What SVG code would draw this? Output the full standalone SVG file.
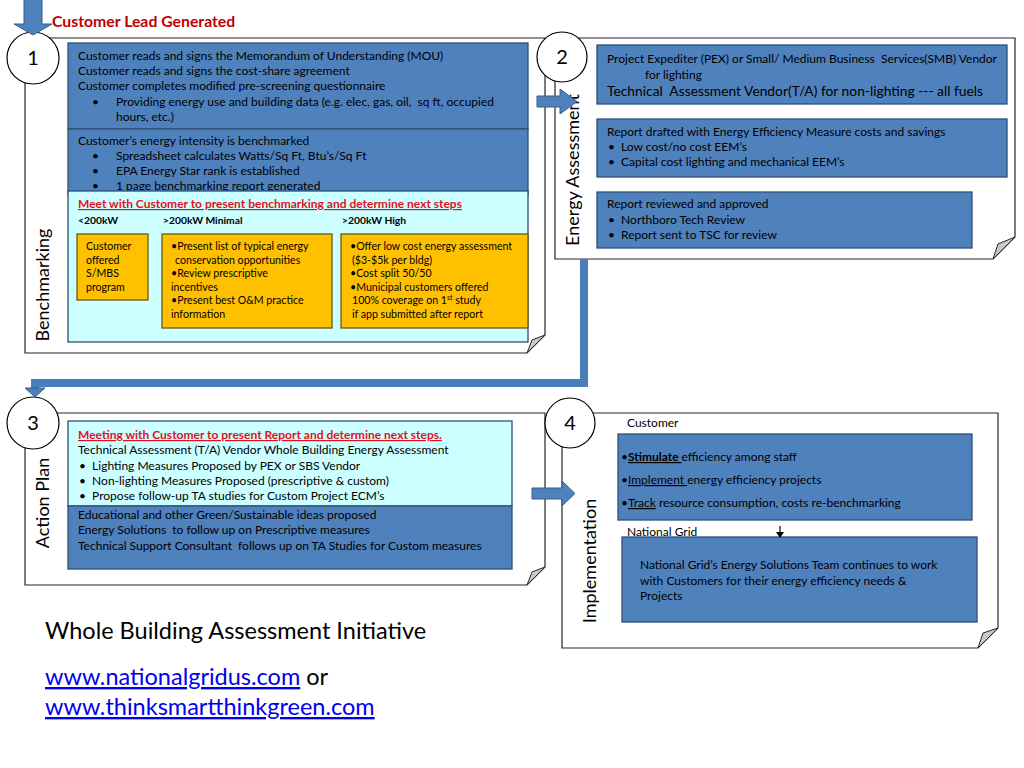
<svg xmlns="http://www.w3.org/2000/svg" width="1024" height="768" viewBox="0 0 1024 768">
<style>
text{font-family:Lato,"Liberation Sans",sans-serif;fill:#000}
.page{fill:#fff;stroke:#262626;stroke-width:1.2}
.fold{fill:#c8c8c8;stroke:#262626;stroke-width:1}
.circ{fill:#fff;stroke:#000;stroke-width:1.2}
.num{font-size:20px;text-anchor:middle}
.blue{fill:#4F81BD;stroke:#2F4F75;stroke-width:1.3}
.cyan{fill:#CCFFFF;stroke:#2F4F75;stroke-width:1.3}
.yel{fill:#FFC000;stroke:#6B5A10;stroke-width:1.3}
.vl{font-size:18px;text-anchor:middle}
.m{font-size:12px}
.y{font-size:10.6px}
.h{font-size:10.3px;font-weight:bold}
.red{fill:#E3101B;font-weight:bold;text-decoration:underline}
.arr{fill:#4F81BD;stroke:#385D8A;stroke-width:1}
.link{fill:#0000EE;text-decoration:underline}
.ft{font-size:23.5px}
</style>

<g id="section1">
<path class="page" d="M25,38 H545 V335 L527,353 H25 Z"/>
<polygon class="fold" points="527,353 532,340 545,335"/>
<circle class="circ" cx="33" cy="58" r="26"/>
<text class="num" x="33" y="65">1</text>
<text x="52" y="27" style="font-size:15.8px;font-weight:bold;fill:#C00000">Customer Lead Generated</text>
<text class="vl" transform="translate(49,285) rotate(-90)">Benchmarking</text>
<rect class="blue" x="68" y="43" width="460" height="86"/>
<text class="m" x="78" y="60">Customer reads and signs the Memorandum of Understanding (MOU)</text>
<text class="m" x="78" y="75">Customer reads and signs the cost-share agreement</text>
<text class="m" x="78" y="90">Customer completes modified pre-screening questionnaire</text>
<text class="m" x="92" y="106">•</text>
<text class="m" x="116" y="106">Providing energy use and building data (e.g. elec, gas, oil, &#160;sq ft, occupied</text>
<text class="m" x="116" y="121">hours, etc.)</text>
<rect class="blue" x="68" y="129" width="460" height="66"/>
<text class="m" x="78" y="145">Customer’s energy intensity is benchmarked</text>
<text class="m" x="92" y="160">•</text>
<text class="m" x="116" y="160">Spreadsheet calculates Watts/Sq Ft, Btu’s/Sq Ft</text>
<text class="m" x="92" y="175">•</text>
<text class="m" x="116" y="175">EPA Energy Star rank is established</text>
<text class="m" x="92" y="190">•</text>
<text class="m" x="116" y="190">1 page benchmarking report generated</text>
<rect class="cyan" x="68" y="191" width="460" height="151"/>
<text class="m red" x="78" y="208">Meet with Customer to present benchmarking and determine next steps</text>
<text class="h" x="78" y="224">&lt;200kW</text>
<text class="h" x="163" y="224">&gt;200kW Minimal</text>
<text class="h" x="342" y="224">&gt;200kW High</text>
<rect class="yel" x="77" y="234" width="71" height="66"/>
<text class="y" x="86" y="250">Customer</text>
<text class="y" x="86" y="264">offered</text>
<text class="y" x="86" y="277">S/MBS</text>
<text class="y" x="86" y="291">program</text>
<rect class="yel" x="162" y="234" width="170" height="94"/>
<text class="y" x="171" y="250">•Present list of typical energy</text>
<text class="y" x="175" y="264">conservation opportunities</text>
<text class="y" x="171" y="277">•Review prescriptive</text>
<text class="y" x="171" y="291">incentives</text>
<text class="y" x="171" y="304">•Present best O&amp;M practice</text>
<text class="y" x="171" y="318">information</text>
<rect class="yel" x="341" y="234" width="187" height="94"/>
<text class="y" x="350" y="250">•Offer low cost energy assessment</text>
<text class="y" x="352" y="264">($3-$5k per bldg)</text>
<text class="y" x="350" y="277">•Cost split 50/50</text>
<text class="y" x="350" y="291">•Municipal customers offered</text>
<text class="y" x="352" y="304">100% coverage on 1<tspan dy="-4" style="font-size:7px">st</tspan><tspan dy="4"> study</tspan></text>
<text class="y" x="352" y="318">if app submitted after report</text>
</g>

<g id="section2">
<path class="page" d="M555,38 H1015 V237 L993,259 H555 Z"/>
<polygon class="fold" points="993,259 998,244 1015,237"/>
<circle class="circ" cx="562" cy="57" r="25"/>
<text class="num" x="562" y="64">2</text>
<text class="vl" transform="translate(579,170) rotate(-90)">Energy Assessment</text>
<rect class="blue" x="597" y="45" width="410" height="59"/>
<text class="m" x="607" y="63">Project Expediter (PEX) or Small/ Medium Business &#160;Services(SMB) Vendor</text>
<text class="m" x="645" y="79">for lighting</text>
<text x="607" y="96" style="font-size:13.8px">Technical &#160;Assessment Vendor(T/A) for non-lighting --- all fuels</text>
<rect class="blue" x="597" y="119" width="410" height="58"/>
<text class="m" x="607" y="136">Report drafted with Energy Efficiency Measure costs and savings</text>
<text class="m" x="608" y="151">• &#160;Low cost/no cost EEM’s</text>
<text class="m" x="608" y="166">• &#160;Capital cost lighting and mechanical EEM’s</text>
<rect class="blue" x="597" y="192" width="375" height="56"/>
<text class="m" x="607" y="208">Report reviewed and approved</text>
<text class="m" x="608" y="224">• &#160;Northboro Tech Review</text>
<text class="m" x="608" y="239">• &#160;Report sent to TSC for review</text>
</g>

<g id="section3">
<path class="page" d="M25,413 H545 V567 L527,585 H25 Z"/>
<polygon class="fold" points="527,585 532,572 545,567"/>
<circle class="circ" cx="33" cy="423" r="26"/>
<text class="num" x="33" y="430">3</text>
<text class="vl" transform="translate(49,503) rotate(-90)">Action Plan</text>
<rect class="cyan" x="68" y="421" width="444" height="85"/>
<text class="m red" x="78" y="439">Meeting with Customer to present Report and determine next steps.</text>
<text class="m" x="78" y="454">Technical Assessment (T/A) Vendor Whole Building Energy Assessment</text>
<text class="m" x="79" y="470">• &#160;Lighting Measures Proposed by PEX or SBS Vendor</text>
<text class="m" x="79" y="485">• &#160;Non-lighting Measures Proposed (prescriptive &amp; custom)</text>
<text class="m" x="79" y="500">• &#160;Propose follow-up TA studies for Custom Project ECM’s</text>
<rect class="blue" x="68" y="506" width="444" height="63"/>
<text class="m" x="78" y="519">Educational and other Green/Sustainable ideas proposed</text>
<text class="m" x="78" y="534">Energy Solutions &#160;to follow up on Prescriptive measures</text>
<text class="m" x="78" y="550">Technical Support Consultant &#160;follows up on TA Studies for Custom measures</text>
</g>

<g id="section4">
<path class="page" d="M562,413 H998 V628 L978,648 H562 Z"/>
<polygon class="fold" points="978,648 983,633 998,628"/>
<circle class="circ" cx="570" cy="423" r="25"/>
<text class="num" x="570" y="430">4</text>
<text class="vl" transform="translate(596,561) rotate(-90)">Implementation</text>
<text class="m" x="627" y="427">Customer</text>
<rect class="blue" x="618" y="434" width="354" height="86"/>
<text class="m" x="621" y="461">•<tspan font-weight="bold" text-decoration="underline">Stimulate </tspan>efficiency among staff</text>
<text class="m" x="621" y="484">•<tspan text-decoration="underline">Implement </tspan>energy efficiency projects</text>
<text class="m" x="621" y="507">•<tspan text-decoration="underline">Track</tspan> resource consumption, costs re-benchmarking</text>
<text class="m" x="627" y="536">National Grid</text>
<rect class="blue" x="622" y="537" width="355" height="85"/>
<text class="m" x="640" y="569">National Grid’s Energy Solutions Team continues to work</text>
<text class="m" x="640" y="585">with Customers for their energy efficiency needs &amp;</text>
<text class="m" x="640" y="600">Projects</text>
</g>

<g id="connectors">
<polygon class="arr" points="24,-1 42,-1 42,24 52,24 33,35 14,24 24,24"/>
<polyline points="584,259 584,383 35,383 35,390" fill="none" stroke="#4A7EBB" stroke-width="8"/>
<polygon points="25,388 45,388 35,397" fill="#4A7EBB" stroke="#385D8A" stroke-width="1"/>
<polygon class="arr" points="537,96 560,96 560,89 577,101.5 560,114 560,107 537,107"/>
<polygon class="arr" points="532,488 562,488 562,481 575,493.5 562,506 562,499 532,499"/>
<line x1="780" y1="526" x2="780" y2="533" stroke="#000" stroke-width="1.2"/>
<polygon points="776,532 784,532 780,538" fill="#000"/>
</g>

<g id="footer">
<text class="ft" x="45" y="639">Whole Building Assessment Initiative</text>
<text class="ft" x="45" y="685"><tspan class="link">www.nationalgridus.com</tspan> or</text>
<text class="ft link" x="45" y="715">www.thinksmartthinkgreen.com</text>
</g>
</svg>
